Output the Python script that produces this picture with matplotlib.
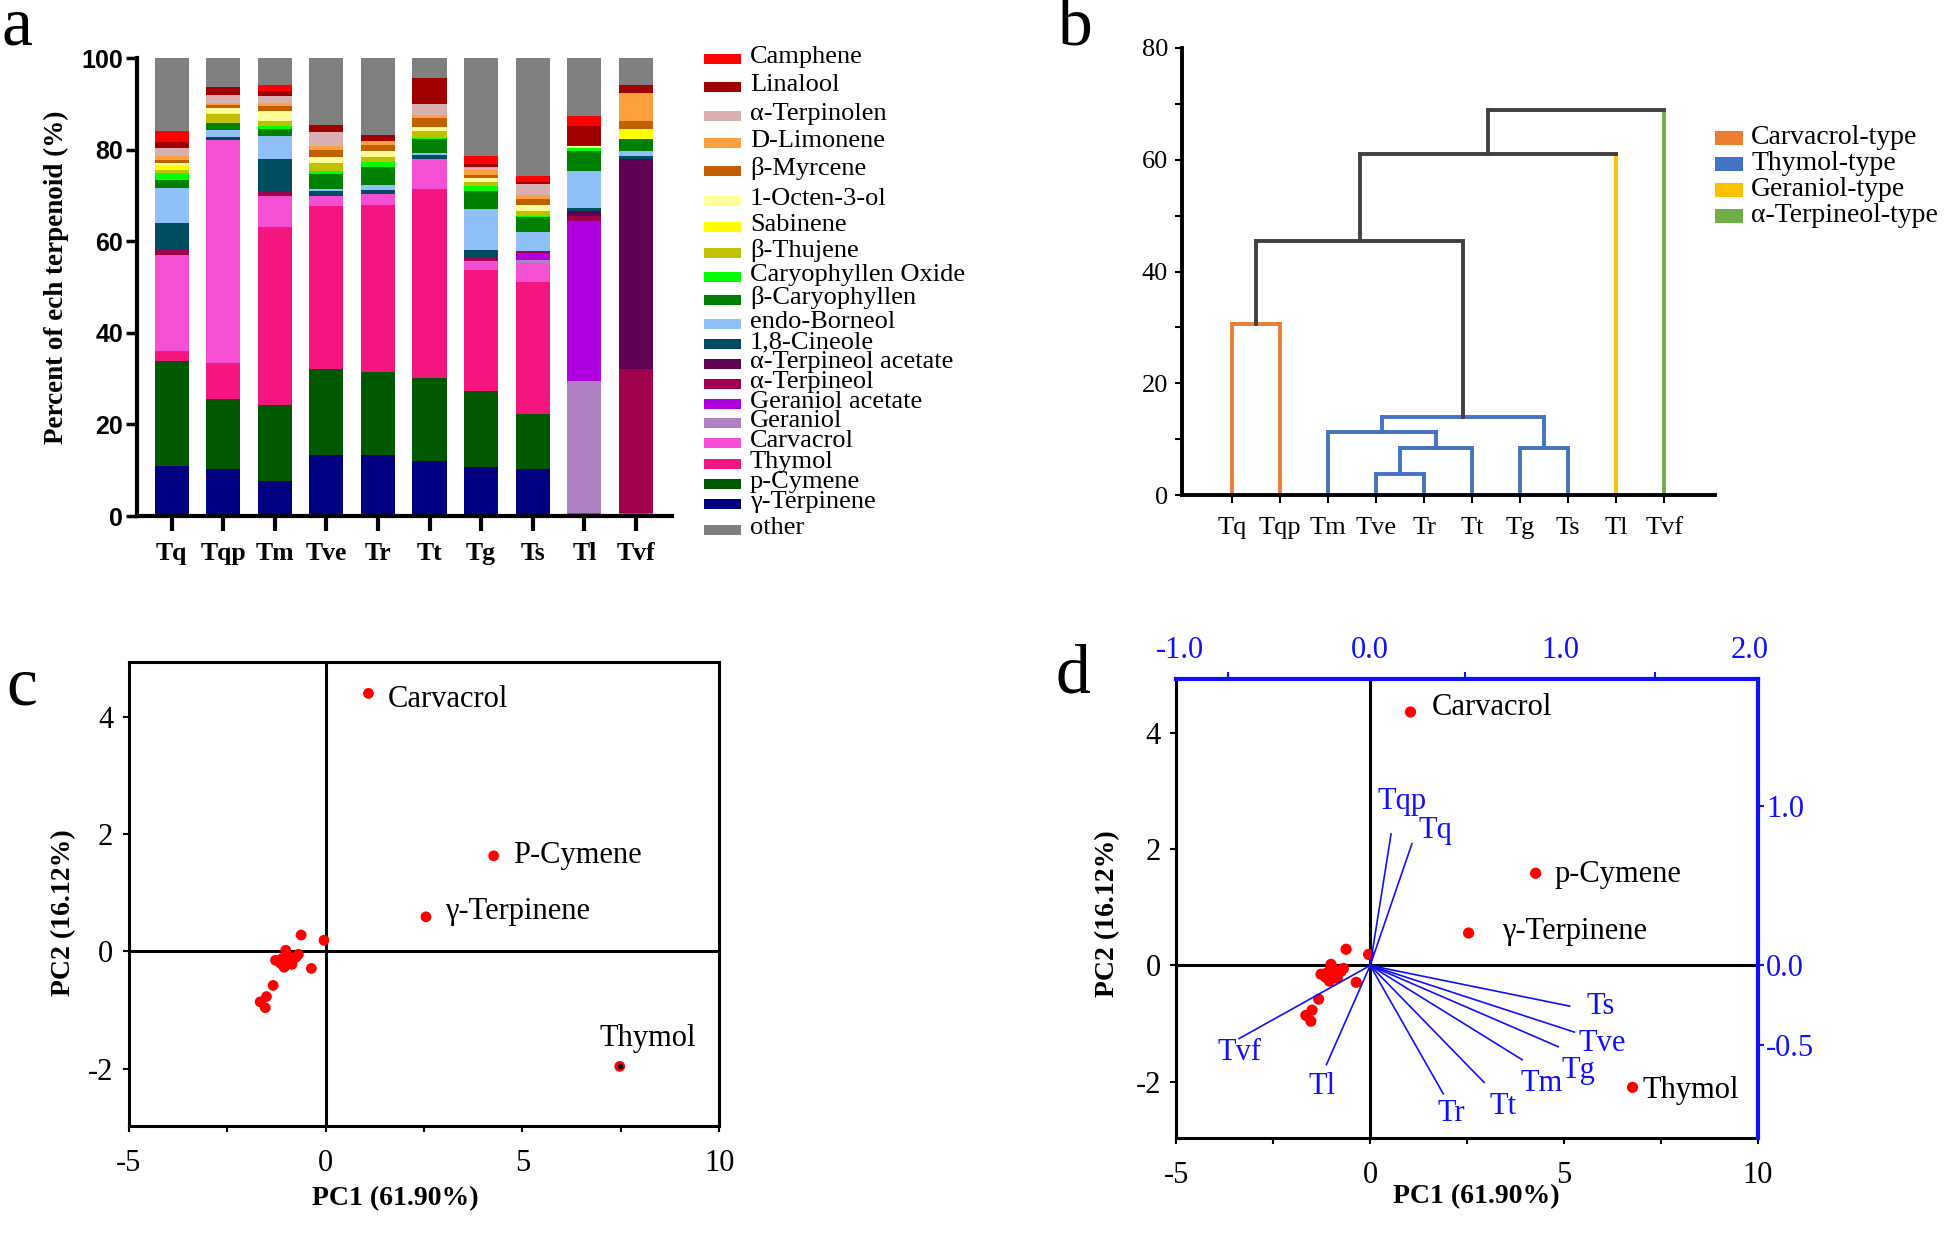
import numpy as np
import matplotlib.pyplot as plt
from matplotlib.patches import Rectangle

plt.rcParams['font.family'] = ['Liberation Serif', 'DejaVu Serif']
plt.rcParams['axes.unicode_minus'] = False

# ================= DATA =================
samples = ['Tq', 'Tqp', 'Tm', 'Tve', 'Tr', 'Tt', 'Tg', 'Ts', 'Tl', 'Tvf']

# panel a, percent of each terpenoid (bottom of the stack first)
g_terpinene = [10.9, 10.2, 7.7, 13.3, 13.3, 12.1, 10.8, 10.2, 0, 0]
p_cymene = [23.0, 15.4, 16.5, 18.7, 18.2, 18.0, 16.6, 12.0, 0, 0.3]
thymol = [2.2, 7.8, 38.8, 35.6, 36.3, 41.3, 26.4, 28.9, 0.7, 0.4]
carvacrol = [20.9, 48.8, 6.8, 2.2, 2.5, 6.6, 1.8, 4.1, 0, 0]
geraniol = [0, 0, 0, 0, 0, 0, 0, 0.6, 28.7, 0]
geraniol_ac = [0, 0, 0, 0, 0, 0, 0, 1.6, 35.1, 0]
terpineol = [1.0, 0, 1.1, 0, 0, 0, 0.7, 0.5, 0.9, 31.3]
terpineol_ac = [0, 0, 0, 0, 0, 0, 0, 0, 1.1, 45.9]
cineole = [5.9, 0.5, 7.1, 1.1, 0.8, 0.8, 1.8, 0, 0.7, 0.8]
borneol = [7.8, 1.5, 4.9, 0.5, 1.1, 0.5, 8.9, 4.0, 8.2, 1.1]
b_caryo = [1.7, 1.6, 1.7, 3.3, 4.1, 3.1, 4.0, 3.3, 4.3, 2.5]
caryo_oxide = [1.5, 0, 0.5, 0.6, 0.9, 0.2, 1.0, 0.3, 0.6, 0]
b_thujene = [0.6, 2.0, 1.2, 1.8, 1.2, 1.4, 1.0, 1.0, 0, 0]
sabinene = [1.2, 0.2, 0, 0, 0, 0, 0, 0, 0.3, 2.2]
octenol = [0.3, 1.0, 2.2, 1.2, 1.4, 0.9, 0.8, 1.5, 0.2, 0]
b_myrcene = [0.8, 0.7, 1.0, 1.7, 1.1, 2.0, 0.7, 1.2, 0, 1.8]
d_limonene = [0.9, 0.4, 0.7, 0.7, 0.9, 0.6, 1.1, 0.9, 0, 6.1]
a_terpinolen = [1.6, 1.9, 1.4, 3.1, 0, 2.5, 0.6, 2.4, 0, 0]
linalool = [1.3, 1.6, 1.3, 1.5, 1.3, 5.6, 0.7, 0.5, 4.4, 1.8]
camphene = [2.5, 0, 1.3, 0, 0, 0, 1.8, 1.3, 2.2, 0]
other = [15.9, 6.4, 5.8, 14.7, 16.9, 4.4, 21.3, 25.7, 12.6, 5.8]

stack = [
    ('γ-Terpinene', g_terpinene, '#000080'),
    ('p-Cymene', p_cymene, '#005800'),
    ('Thymol', thymol, '#F5157F'),
    ('Carvacrol', carvacrol, '#F550D4'),
    ('Geraniol', geraniol, '#B080C0'),
    ('Geraniol acetate', geraniol_ac, '#B000E0'),
    ('α-Terpineol', terpineol, '#A0004C'),
    ('α-Terpineol acetate', terpineol_ac, '#600050'),
    ('1,8-Cineole', cineole, '#004C60'),
    ('endo-Borneol', borneol, '#90C0F8'),
    ('β-Caryophyllen', b_caryo, '#008000'),
    ('Caryophyllen Oxide', caryo_oxide, '#00FF00'),
    ('β-Thujene', b_thujene, '#C0C000'),
    ('Sabinene', sabinene, '#FFFF00'),
    ('1-Octen-3-ol', octenol, '#FFFF99'),
    ('β-Myrcene', b_myrcene, '#C06000'),
    ('D-Limonene', d_limonene, '#FFA040'),
    ('α-Terpinolen', a_terpinolen, '#D8B0B0'),
    ('Linalool', linalool, '#A00000'),
    ('Camphene', camphene, '#FF0000'),
    ('other', other, '#808080'),
]

# panel b, hierarchical clustering (child, child, height)
leaf_type = ['Carvacrol-type', 'Carvacrol-type', 'Thymol-type', 'Thymol-type', 'Thymol-type',
             'Thymol-type', 'Thymol-type', 'Thymol-type', 'Geraniol-type', 'α-Terpineol-type']
merges = [(3, 4, 3.7), (10, 5, 8.5), (6, 7, 8.5), (2, 11, 11.3), (13, 12, 13.9),
          (0, 1, 30.6), (15, 14, 45.4), (16, 8, 61.1), (17, 9, 68.9)]
type_names = ['Carvacrol-type', 'Thymol-type', 'Geraniol-type', 'α-Terpineol-type']
type_colors = ['#ED7D31', '#4472C4', '#FFC000', '#70AD47']

# panel c / d, PCA scores
score_names_c = ['Carvacrol', 'P-Cymene', 'γ-Terpinene', 'Thymol']
score_names_d = ['Carvacrol', 'p-Cymene', 'γ-Terpinene', 'Thymol']
pc1_main_c = [1.09, 4.27, 2.55, 7.47]
pc2_main_c = [4.40, 1.63, 0.59, -1.96]
pc1_main_d = [1.04, 4.27, 2.54, 6.77]
pc2_main_d = [4.37, 1.59, 0.56, -2.10]
pc1_rest = [-0.62, -0.04, -1.01, -0.95, -0.69, -1.27, -1.10, -0.85, -1.05, -0.92,
            -0.36, -1.33, -1.50, -1.66, -1.53, -0.75, -1.15]
pc2_rest = [0.28, 0.19, 0.02, -0.08, -0.05, -0.15, -0.12, -0.22, -0.27, -0.18,
            -0.29, -0.58, -0.77, -0.86, -0.96, -0.10, -0.20]

# panel d, loadings of the samples
load_x = [0.22, 0.11, 0.80, 1.075, 0.385, 0.60, 0.99, 1.05, -0.23, -0.69]
load_y = [0.75, 0.81, -0.58, -0.41, -0.79, -0.72, -0.50, -0.25, -0.61, -0.45]

# ================= LAYOUT =================
W, H = 1944, 1258


def rect(l, t, r, b):
    return [l / W, 1 - b / H, (r - l) / W, (b - t) / H]


def fxy(x, y):
    return x / W, 1 - y / H


fig = plt.figure(figsize=(W / 100, H / 100), dpi=100)

# ================= PANEL A =================
ax = fig.add_axes(rect(137, 58, 672, 516))
x = np.arange(len(samples))
bottom = np.zeros(len(samples))
for name, vals, col in stack:
    ax.bar(x, vals, bottom=bottom, width=0.66, color=col, edgecolor='none')
    bottom += np.array(vals)
ax.set_xlim(-0.67, 9.7)
ax.set_ylim(0, 100)
for s in ['top', 'right']:
    ax.spines[s].set_visible(False)
for s in ['left', 'bottom']:
    ax.spines[s].set_linewidth(3)
ax.set_yticks([0, 20, 40, 60, 80, 100])
ax.set_yticklabels(['0', '20', '40', '60', '80', '100'], family='Liberation Sans',
                   fontweight='bold', fontsize=18)
ax.set_xticks(x)
ax.set_xticklabels(samples, fontweight='bold', fontsize=18.5)
ax.tick_params(axis='y', length=8, width=2.5, pad=2)
ax.tick_params(axis='x', length=11, width=3, pad=8)
fig.text(*fxy(56, 277), 'Percent of ech terpenoid (%)', rotation=90, ha='center',
         va='center', fontsize=19.5, fontweight='bold')

leg_y = [59, 87, 116, 143, 171, 201, 227, 253, 277, 300, 324, 344, 364, 384, 404,
         423, 443, 464, 484, 504, 530]
legend_items = stack[:-1][::-1] + [stack[-1]]
for (name, vals, col), yy in zip(legend_items, leg_y):
    x0, y0 = fxy(704, yy + 5)
    fig.patches.append(Rectangle((x0, y0), 37 / W, 10 / H, transform=fig.transFigure,
                                 facecolor=col, edgecolor='none'))
    fig.text(*fxy(750, yy - 2), name, ha='left', va='center', fontsize=19)

fig.text(*fxy(2, 28), 'a', fontsize=50, ha='left', va='center')

# ================= PANEL B =================
axb = fig.add_axes(rect(1182, 48, 1715, 495))
n = len(samples)
xpos = {i: float(i) for i in range(n)}
hgt = {i: 0.0 for i in range(n)}
ncol = {i: type_colors[type_names.index(leaf_type[i])] for i in range(n)}
grey = '#404040'
for k, (a, b, h) in enumerate(merges):
    node = n + k
    xpos[node] = (xpos[a] + xpos[b]) / 2
    hgt[node] = h
    ncol[node] = ncol[a] if ncol[a] == ncol[b] else grey
    for c in (a, b):
        vc = ncol[c] if c < n else ncol[node]
        axb.plot([xpos[c], xpos[c]], [hgt[c], h], color=vc, lw=2.8, solid_capstyle='projecting')
    axb.plot([xpos[a], xpos[b]], [h, h], color=ncol[node], lw=2.8, solid_capstyle='projecting')
axb.set_xlim(-1.05, 10.06)
axb.set_ylim(0, 80)
for s in ['top', 'right']:
    axb.spines[s].set_visible(False)
for s in ['left', 'bottom']:
    axb.spines[s].set_linewidth(2.8)
axb.set_yticks([0, 20, 40, 60, 80])
axb.set_yticks([10, 30, 50, 70], minor=True)
axb.tick_params(axis='y', which='both', length=5, width=1.5, labelsize=19, pad=5)
axb.set_xticks(range(n))
axb.set_xticklabels(samples, fontsize=19)
axb.tick_params(axis='x', length=6, width=1.5, pad=10)
for i, (tn, tc) in enumerate(zip(type_names, type_colors)):
    yy = 138 + 26 * i
    x0, y0 = fxy(1715, yy + 7)
    fig.patches.append(Rectangle((x0, y0), 28 / W, 14 / H, transform=fig.transFigure,
                                 facecolor=tc, edgecolor='none'))
    fig.text(*fxy(1751, yy - 1), tn, ha='left', va='center', fontsize=20)
fig.text(*fxy(1058, 28), 'b', fontsize=50, ha='left', va='center')


# ================= PANEL C / D helpers =================
def pca_frame(axp):
    axp.set_xlim(-5, 10)
    axp.set_ylim(-2.97, 4.94)
    axp.axhline(0, color='black', lw=2.2, zorder=1)
    axp.axvline(0, color='black', lw=2.2, zorder=1)
    axp.set_xticks([-5, 0, 5, 10])
    axp.set_xticks([-2.5, 2.5, 7.5], minor=True)
    axp.set_yticks([-2, 0, 2, 4])
    axp.tick_params(axis='x', which='both', length=4, width=1.5, labelsize=22, pad=13)
    axp.tick_params(axis='y', which='both', length=4, width=1.5, labelsize=22, pad=7)
    for s in axp.spines.values():
        s.set_linewidth(2.2)


# ================= PANEL C =================
axc = fig.add_axes(rect(128.6, 661.7, 719.4, 1125.6))
pca_frame(axc)
axc.scatter(pc1_rest, pc2_rest, s=60, color='#FF0000', edgecolor='none', zorder=3)
axc.scatter(pc1_main_c, pc2_main_c, s=60, color='#FF0000', edgecolor='none', zorder=3)
axc.scatter([pc1_main_c[3]], [pc2_main_c[3]], s=8, color='black', zorder=4)
offs_c = [(19, -6, 'left'), (19, 0, 'left'), (19, 5, 'left'), (28, 28, 'center')]
for nm, px, py, (dx, dy, ha) in zip(score_names_c, pc1_main_c, pc2_main_c, offs_c):
    axc.annotate(nm, (px, py), xytext=(dx, dy), textcoords='offset pixels',
                 ha=ha, va='center', fontsize=22)
fig.text(*fxy(395, 1199), 'PC1 (61.90%)', ha='center', va='center', fontsize=20,
         fontweight='bold')
fig.text(*fxy(64, 913), 'PC2 (16.12%)', ha='center', va='center', fontsize=20,
         fontweight='bold', rotation=90)
fig.text(*fxy(6, 688), 'c', fontsize=50, ha='left', va='center')

# ================= PANEL D =================
rd = rect(1176.4, 678.9, 1757.7, 1137.8)
axd = fig.add_axes(rd)
pca_frame(axd)
axd.spines['top'].set_visible(False)
axd.spines['right'].set_visible(False)
axd.scatter(pc1_rest, pc2_rest, s=65, color='#FF0000', edgecolor='none', zorder=3)
axd.scatter(pc1_main_d, pc2_main_d, s=65, color='#FF0000', edgecolor='none', zorder=3)
offs_d = [(21, 4, 'left'), (19, -1, 'left'), (33, 2, 'left'), (10, -3, 'left')]
for nm, px, py, (dx, dy, ha) in zip(score_names_d, pc1_main_d, pc2_main_d, offs_d):
    axd.annotate(nm, (px, py), xytext=(dx, dy), textcoords='offset pixels',
                 ha=ha, va='center', fontsize=22)

blue = '#1010FF'
axl = fig.add_axes(rd)
axl.set_facecolor('none')
axl.set_xlim(-1.02, 2.04)
axl.set_ylim(-2.97 / 2.75, 4.94 / 2.75)
axl.xaxis.tick_top()
axl.yaxis.tick_right()
axl.spines['left'].set_visible(False)
axl.spines['bottom'].set_visible(False)
for s in ['top', 'right']:
    axl.spines[s].set_color(blue)
    axl.spines[s].set_linewidth(3)
axl.set_xticks([-1, 0, 1, 2])
axl.set_xticklabels(['-1.0', '0.0', '1.0', '2.0'])
axl.set_xticks([-0.75, 0.5, 1.5], minor=True)
axl.set_yticks([-0.5, 0, 1])
axl.set_yticklabels(['-0.5', '0.0', '1.0'])
axl.tick_params(axis='x', which='major', length=0, labelsize=22, colors=blue, pad=10)
axl.tick_params(axis='x', which='minor', length=5, width=1.5, colors=blue)
axl.tick_params(axis='y', length=4, width=1.5, labelsize=22, colors=blue, pad=2)
for lx, ly in zip(load_x, load_y):
    axl.plot([0, lx], [0, ly * 2.8 / 2.75], color=blue, lw=1.2)
offs_l = {'Tq': (23, 13), 'Tqp': (11, 32), 'Tm': (19, -24), 'Tve': (28, -11),
          'Tr': (8, -20), 'Tt': (19, -24), 'Tg': (20, -24), 'Ts': (31, 0),
          'Tl': (-4, -22), 'Tvf': (0, -14)}
for nm, lx, ly in zip(samples, load_x, load_y):
    dx, dy = offs_l[nm]
    axl.annotate(nm, (lx, ly * 2.8 / 2.75), xytext=(dx, dy), textcoords='offset pixels',
                 ha='center', va='center', fontsize=22, color=blue)
fig.text(*fxy(1476, 1197), 'PC1 (61.90%)', ha='center', va='center', fontsize=20,
         fontweight='bold')
fig.text(*fxy(1108, 914), 'PC2 (16.12%)', ha='center', va='center', fontsize=20,
         fontweight='bold', rotation=90)
fig.text(*fxy(1056, 676), 'd', fontsize=50, ha='left', va='center')

fig.savefig('out.png', dpi=100)
